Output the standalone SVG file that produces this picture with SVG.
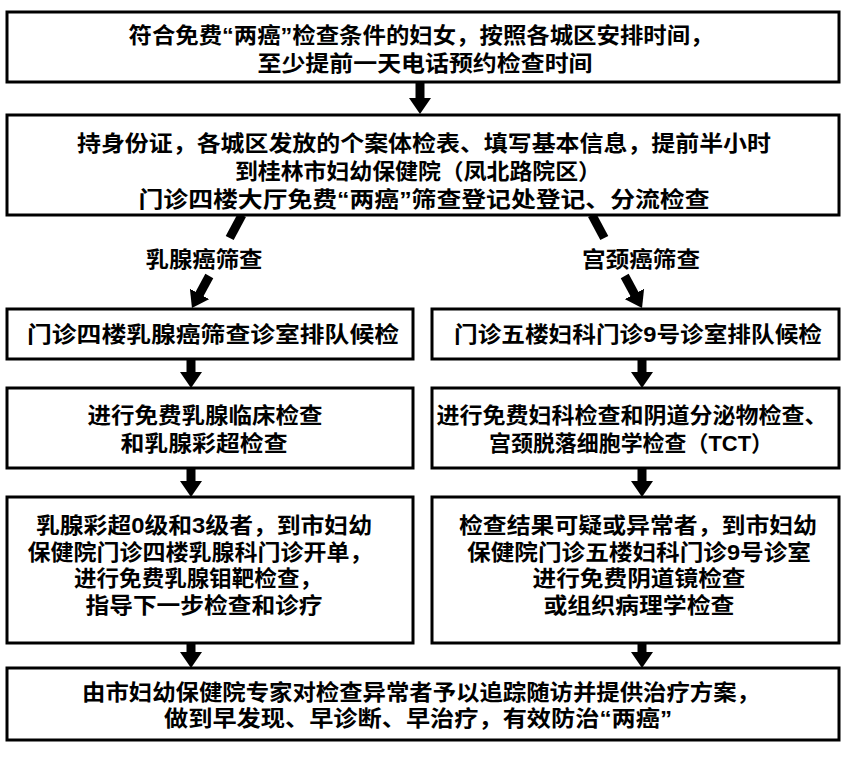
<svg xmlns="http://www.w3.org/2000/svg" width="850" height="757" viewBox="0 0 850 757">
<defs>
<style>
.box{fill:#fff;stroke:#000;stroke-width:3}
.t{font-family:"Liberation Sans","Noto Sans CJK SC",sans-serif;font-size:22px;font-weight:700;fill:#000;text-anchor:middle;dominant-baseline:central}
.c{stroke:#000;stroke-width:9;fill:none}
</style>
<marker id="ah" viewBox="0 0 16 22" refX="1" refY="11" markerWidth="16" markerHeight="22" markerUnits="userSpaceOnUse" orient="auto">
<path d="M0,0 L16,11 L0,22 z" fill="#000"/>
</marker>
</defs>
<rect width="850" height="757" fill="#fff"/>
<g id="connectors">
<line class="c" x1="420" y1="82" x2="420" y2="99" marker-end="url(#ah)"/>
<line class="c" x1="242" y1="215" x2="229.7" y2="238"/>
<line class="c" x1="209.3" y1="276" x2="199.1" y2="294.8" marker-end="url(#ah)"/>
<line class="c" x1="592" y1="215" x2="604.3" y2="238"/>
<line class="c" x1="624.7" y1="276" x2="634.9" y2="294.8" marker-end="url(#ah)"/>
<line class="c" x1="191" y1="359" x2="191" y2="373" marker-end="url(#ah)"/>
<line class="c" x1="642" y1="359" x2="642" y2="373" marker-end="url(#ah)"/>
<line class="c" x1="191" y1="468" x2="191" y2="482" marker-end="url(#ah)"/>
<line class="c" x1="642" y1="468" x2="642" y2="482" marker-end="url(#ah)"/>
<line class="c" x1="191" y1="643" x2="191" y2="653" marker-end="url(#ah)"/>
<line class="c" x1="642" y1="643" x2="642" y2="653" marker-end="url(#ah)"/>
<text class="t" x="204" y="259" textLength="117" lengthAdjust="spacingAndGlyphs">乳腺癌筛查</text>
<text class="t" x="641" y="259" textLength="118" lengthAdjust="spacingAndGlyphs">宫颈癌筛查</text>
</g>
<g id="n1">
<rect class="box" x="7" y="12" width="832" height="70"/>
<text class="t" x="421" y="35" textLength="585" lengthAdjust="spacingAndGlyphs">符合免费“两癌”检查条件的妇女，按照各城区安排时间，</text>
<text class="t" x="425" y="63" textLength="335" lengthAdjust="spacingAndGlyphs">至少提前一天电话预约检查时间</text>
</g>
<g id="n2">
<rect class="box" x="7" y="115" width="832" height="100"/>
<text class="t" x="424" y="143" textLength="694" lengthAdjust="spacingAndGlyphs">持身份证，各城区发放的个案体检表、填写基本信息，提前半小时</text>
<text class="t" x="418" y="171" textLength="366" lengthAdjust="spacingAndGlyphs">到桂林市妇幼保健院（凤北路院区）</text>
<text class="t" x="424" y="199" textLength="571" lengthAdjust="spacingAndGlyphs">门诊四楼大厅免费“两癌”筛查登记处登记、分流检查</text>
</g>
<g id="n3l">
<rect class="box" x="7" y="309" width="406" height="50"/>
<text class="t" x="213" y="334" textLength="372" lengthAdjust="spacingAndGlyphs">门诊四楼乳腺癌筛查诊室排队候检</text>
</g>
<g id="n3r">
<rect class="box" x="432" y="309" width="407" height="50"/>
<text class="t" x="638" y="334" textLength="368" lengthAdjust="spacingAndGlyphs">门诊五楼妇科门诊9号诊室排队候检</text>
</g>
<g id="n4l">
<rect class="box" x="7" y="388" width="406" height="80"/>
<text class="t" x="205" y="415" textLength="235" lengthAdjust="spacingAndGlyphs">进行免费乳腺临床检查</text>
<text class="t" x="204" y="443" textLength="167" lengthAdjust="spacingAndGlyphs">和乳腺彩超检查</text>
</g>
<g id="n4r">
<rect class="box" x="432" y="388" width="407" height="80"/>
<text class="t" x="632" y="415" textLength="391" lengthAdjust="spacingAndGlyphs">进行免费妇科检查和阴道分泌物检查、</text>
<text class="t" x="631" y="443" textLength="284" lengthAdjust="spacingAndGlyphs">宫颈脱落细胞学检查（TCT）</text>
</g>
<g id="n5l">
<rect class="box" x="7" y="497" width="406" height="146"/>
<text class="t" x="204" y="525" textLength="336" lengthAdjust="spacingAndGlyphs">乳腺彩超0级和3级者，到市妇幼</text>
<text class="t" x="200" y="552" textLength="345" lengthAdjust="spacingAndGlyphs">保健院门诊四楼乳腺科门诊开单，</text>
<text class="t" x="198" y="578" textLength="248" lengthAdjust="spacingAndGlyphs">进行免费乳腺钼靶检查，</text>
<text class="t" x="204" y="605" textLength="237" lengthAdjust="spacingAndGlyphs">指导下一步检查和诊疗</text>
</g>
<g id="n5r">
<rect class="box" x="432" y="497" width="407" height="146"/>
<text class="t" x="638" y="525" textLength="358" lengthAdjust="spacingAndGlyphs">检查结果可疑或异常者，到市妇幼</text>
<text class="t" x="639" y="552" textLength="344" lengthAdjust="spacingAndGlyphs">保健院门诊五楼妇科门诊9号诊室</text>
<text class="t" x="639" y="578" textLength="213" lengthAdjust="spacingAndGlyphs">进行免费阴道镜检查</text>
<text class="t" x="639" y="605" textLength="191" lengthAdjust="spacingAndGlyphs">或组织病理学检查</text>
</g>
<g id="n6">
<rect class="box" x="7" y="668" width="832" height="72"/>
<text class="t" x="421" y="692" textLength="678" lengthAdjust="spacingAndGlyphs">由市妇幼保健院专家对检查异常者予以追踪随访并提供治疗方案，</text>
<text class="t" x="418" y="718" textLength="508" lengthAdjust="spacingAndGlyphs">做到早发现、早诊断、早治疗，有效防治“两癌”</text>
</g>
</svg>
